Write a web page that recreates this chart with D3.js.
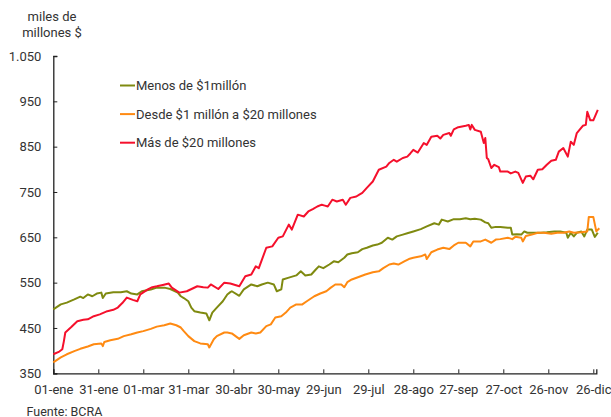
<!DOCTYPE html>
<html>
<head>
<meta charset="utf-8">
<script src="https://cdn.jsdelivr.net/npm/d3@7"></script>
<style>
  body { margin: 0; background: #fff; }
  text { font-family: Roboto, "Liberation Sans", sans-serif; fill: #333; }
</style>
</head>
<body>
<div id="chart"></div>
<script>
// days since 01-ene-2020, values in miles de millones $
var menosDays = [0,5,9,14,18,20,23,26,29,32,33,35,40,45,49,52,56,59,65,69,74,78,83,85,87,90,92,94,98,102,104,106,109,113,116,118,119,124,127,132,136,139,143,147,149,152,153,157,162,165,168,172,175,177,180,184,187,190,194,196,199,203,206,209,213,216,219,223,226,229,233,236,240,245,249,254,257,259,263,267,271,275,278,281,285,288,290,292,295,298,303,305,306,309,312,314,316,320,325,329,334,338,342,343,345,347,349,352,354,356,359,361,363];
var menosVals = [491,502,506,513,519,516,524,520,526,528,516,526,529,529,531,526,524,531,535,539,539,536,528,520,516,509,495,487,484,482,467,484,495,509,524,529,531,521,535,546,542,546,550,546,531,535,557,561,566,575,566,568,579,586,582,590,597,595,605,612,615,617,624,627,632,634,638,649,645,652,656,659,663,668,674,681,678,689,685,690,690,692,690,691,689,683,681,671,673,673,671,671,656,657,656,663,660,660,660,661,663,663,660,649,660,652,660,663,652,667,667,651,660];

var desdeDays = [0,5,9,14,18,23,27,32,33,34,38,43,47,52,56,60,65,69,74,78,82,85,87,90,94,98,103,104,107,109,114,116,119,124,127,132,135,138,142,145,148,152,155,158,162,166,169,174,178,182,185,188,192,194,196,199,204,208,213,217,220,224,227,230,234,237,240,245,248,249,252,256,260,264,267,270,275,278,280,285,288,292,295,298,303,306,308,312,313,315,319,323,327,332,336,340,344,347,352,356,357,360,362,364];
var desdeVals = [374,385,392,399,404,409,414,416,410,419,423,426,432,436,440,443,448,453,456,460,456,451,443,432,421,416,414,407,425,432,440,440,438,426,434,440,438,440,454,458,473,476,484,495,502,502,509,520,526,531,539,546,546,540,551,557,563,568,573,575,582,590,592,590,597,602,605,608,612,602,617,623,627,624,632,638,638,630,641,641,645,638,645,646,649,646,651,649,641,653,656,660,660,658,660,660,663,660,661,663,695,695,663,670];

var masDays = [0,4,6,7,8,12,16,20,23,27,31,36,40,43,46,49,53,56,58,63,66,69,73,77,79,84,89,96,100,103,105,110,114,118,124,128,132,135,137,142,146,150,153,157,159,163,167,170,173,176,179,181,183,186,189,193,195,198,202,204,206,209,213,217,222,224,227,229,233,236,238,240,243,247,249,252,256,258,260,264,265,267,270,275,277,278,279,281,285,287,288,289,290,292,294,297,298,303,305,308,310,313,315,318,320,323,326,329,332,335,337,340,343,345,347,349,353,355,356,358,360,363];
var masVals = [392,398,403,420,440,452,465,468,469,476,480,487,490,495,505,517,512,509,524,535,540,542,545,548,539,528,531,542,540,539,546,536,550,548,542,564,568,586,582,627,630,649,652,678,667,700,696,707,712,718,722,720,718,733,729,733,722,737,740,744,748,759,773,799,806,814,821,817,825,828,835,843,837,858,854,872,874,868,876,880,874,888,893,896,898,888,898,887,883,858,869,825,822,803,810,805,795,795,791,795,792,770,784,786,778,799,800,810,819,821,839,847,828,861,854,880,896,898,927,908,908,931];

var seriesNames = ["Menos de $1millón", "Desde $1 millón a $20 millones", "Más de $20 millones"];
var seriesColors = ["#7f8a10", "#ff8a12", "#f5102c"];
var tickLabels = ["01-ene","31-ene","01-mar","31-mar","30-abr","30-may","29-jun","29-jul","28-ago","27-sep","27-oct","26-nov","26-dic"];
var yTicks = [350,450,550,650,750,850,950,1050];

var width = 611, height = 417;
var svg = d3.select("#chart").append("svg")
	.attr("width", width)
	.attr("height", height);

var x = d3.scaleLinear().domain([0, 362]).range([53.3, 596.3]);
var y = d3.scaleLinear().domain([350, 1050]).range([373.3, 56]);

var es = d3.formatLocale({decimal: ",", thousands: ".", grouping: [3], currency: ["$", ""]});
var fmt = es.format(",");

// y axis
var yAxis = svg.append("g")
	.attr("transform", "translate(53.3,0)")
	.call(d3.axisRight(y).tickValues(yTicks).tickFormat(fmt).tickSize(4));
yAxis.select(".domain").attr("stroke", "#222").attr("stroke-width", 1.3);
yAxis.selectAll(".tick line").attr("stroke", "#222");
yAxis.selectAll(".tick text")
	.attr("x", -12)
	.attr("text-anchor", "end")
	.style("font-size", "13px");

// x axis
var xAxis = svg.append("g")
	.attr("transform", "translate(0,373.3)")
	.call(d3.axisTop(x).tickValues(d3.range(0, 361, 30))
		.tickFormat(function(d, i) { return tickLabels[i]; }).tickSize(4));
xAxis.select(".domain").attr("stroke", "#222").attr("stroke-width", 1.3);
xAxis.selectAll(".tick line").attr("stroke", "#222");
xAxis.selectAll(".tick text")
	.attr("y", 17)
	.attr("dy", "0.32em")
	.style("font-size", "13px");

// lines
var seriesData = [
	d3.zip(menosDays, menosVals),
	d3.zip(desdeDays, desdeVals),
	d3.zip(masDays, masVals)
];
var line = d3.line()
	.x(function(d) { return x(d[0]); })
	.y(function(d) { return y(d[1]); });

svg.selectAll(".serie")
	.data(seriesData)
	.enter()
	.append("path")
		.attr("class", "serie")
		.attr("d", line)
		.attr("fill", "none")
		.attr("stroke", function(d, i) { return seriesColors[i]; })
		.attr("stroke-width", 2)
		.attr("stroke-linejoin", "round");

// legend
var legend = svg.selectAll(".leg")
	.data(seriesNames)
	.enter()
	.append("g")
		.attr("class", "leg")
		.attr("transform", function(d, i) { return "translate(120," + (85.5 + i * 28.6) + ")"; });
legend.append("line")
	.attr("x1", 0).attr("x2", 15)
	.attr("stroke", function(d, i) { return seriesColors[i]; })
	.attr("stroke-width", 2);
legend.append("text")
	.attr("x", 16)
	.attr("dy", "0.35em")
	.style("font-size", "13px")
	.text(function(d) { return d; });

// unit label
svg.append("text")
	.attr("x", 52).attr("y", 20.5)
	.attr("text-anchor", "middle")
	.style("font-size", "13px")
	.text("miles de");
svg.append("text")
	.attr("x", 52).attr("y", 37)
	.attr("text-anchor", "middle")
	.style("font-size", "13px")
	.text("millones $");

// source
svg.append("text")
	.attr("x", 26.5).attr("y", 415.5)
	.style("font-size", "12.5px")
	.text("Fuente: BCRA");
</script>
</body>
</html>
